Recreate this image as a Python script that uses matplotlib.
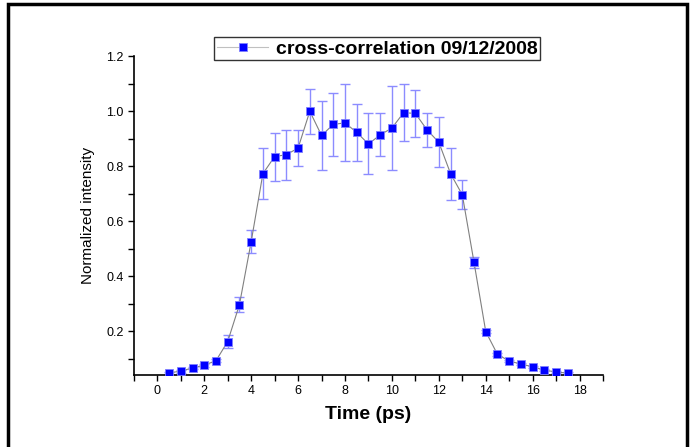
import matplotlib
matplotlib.use('Agg')
import matplotlib.pyplot as plt
from matplotlib.ticker import MultipleLocator
from matplotlib.patches import Rectangle

plt.rcParams['font.family'] = ['Liberation Sans', 'DejaVu Sans']

# cross-correlation data
time_ps = [0.5, 1.0, 1.5, 2.0, 2.5, 3.0, 3.5, 4.0, 4.5, 5.0, 5.5, 6.0, 6.5, 7.0, 7.5,
           8.0, 8.5, 9.0, 9.5, 10.0, 10.5, 11.0, 11.5, 12.0, 12.5, 13.0, 13.5, 14.0,
           14.5, 15.0, 15.5, 16.0, 16.5, 17.0, 17.5]
intensity = [0.048, 0.054, 0.066, 0.076, 0.092, 0.162, 0.296, 0.525, 0.773, 0.835,
             0.842, 0.866, 1.0, 0.912, 0.952, 0.958, 0.923, 0.881, 0.914, 0.939,
             0.995, 0.992, 0.932, 0.887, 0.773, 0.696, 0.45, 0.198, 0.115, 0.091,
             0.080, 0.070, 0.058, 0.051, 0.047]
errors = [0.004, 0.005, 0.005, 0.005, 0.006, 0.022, 0.027, 0.042, 0.093, 0.087,
          0.091, 0.066, 0.081, 0.127, 0.113, 0.14, 0.105, 0.111, 0.078, 0.154,
          0.104, 0.086, 0.061, 0.091, 0.095, 0.053, 0.021, 0.005, 0.004, 0.004,
          0.004, 0.004, 0.004, 0.004, 0.004]

fig = plt.figure(figsize=(6.9, 4.47), dpi=100)
ax = fig.add_axes([0.194, 0.161, 0.68, 0.713])

ax.errorbar(time_ps, intensity, yerr=errors, fmt='none', ecolor='#8c8cff',
            elinewidth=1.0, capsize=3.5, capthick=1.0, zorder=2)
ax.plot(time_ps, intensity, color='#808080', lw=0.8, marker='s', markersize=6,
        markerfacecolor='#0000ff', markeredgecolor='#8080ff', markeredgewidth=0.6,
        label='cross-correlation 09/12/2008', zorder=3)

ax.set_xlim(-1, 19)
ax.set_ylim(0.04, 1.2)
ax.xaxis.set_major_locator(MultipleLocator(2))
ax.xaxis.set_minor_locator(MultipleLocator(1))
ax.yaxis.set_minor_locator(MultipleLocator(0.1))
ax.set_yticks([0.2, 0.4, 0.6, 0.8, 1.0, 1.2])
ax.set_yticklabels(['0.2', '0.4', '0.6', '0.8', '1.0', '1.2'])
ax.tick_params(which='both', direction='out', labelsize=9, width=1)
ax.tick_params(which='major', length=4)
ax.tick_params(which='minor', length=4)

for side in ['top', 'right']:
    ax.spines[side].set_visible(False)
for side in ['left', 'bottom']:
    ax.spines[side].set_linewidth(1.2)

ax.set_xlabel('Time (ps)', fontsize=14, fontweight='bold', labelpad=6)
ax.set_ylabel('Normalized intensity', fontsize=11, labelpad=8)

leg = fig.legend(loc='center', bbox_to_anchor=(0.547, 0.891),
                 prop={'weight': 'bold', 'size': 14}, frameon=True, fancybox=False,
                 handlelength=2.6, borderpad=0.15, handletextpad=0.4,
                 borderaxespad=0)
leg.get_frame().set_edgecolor('black')
leg.get_frame().set_linewidth(1.0)
for h in leg.get_lines():
    h.set_color('#c0c0c0')

# outer frame
fig.patches.append(Rectangle((8 / 690, -0.1), 679 / 690, 1 - 4 / 447 + 0.1,
                             transform=fig.transFigure, fill=False,
                             edgecolor='black', linewidth=2.5))

fig.savefig('out.png', dpi=100)
